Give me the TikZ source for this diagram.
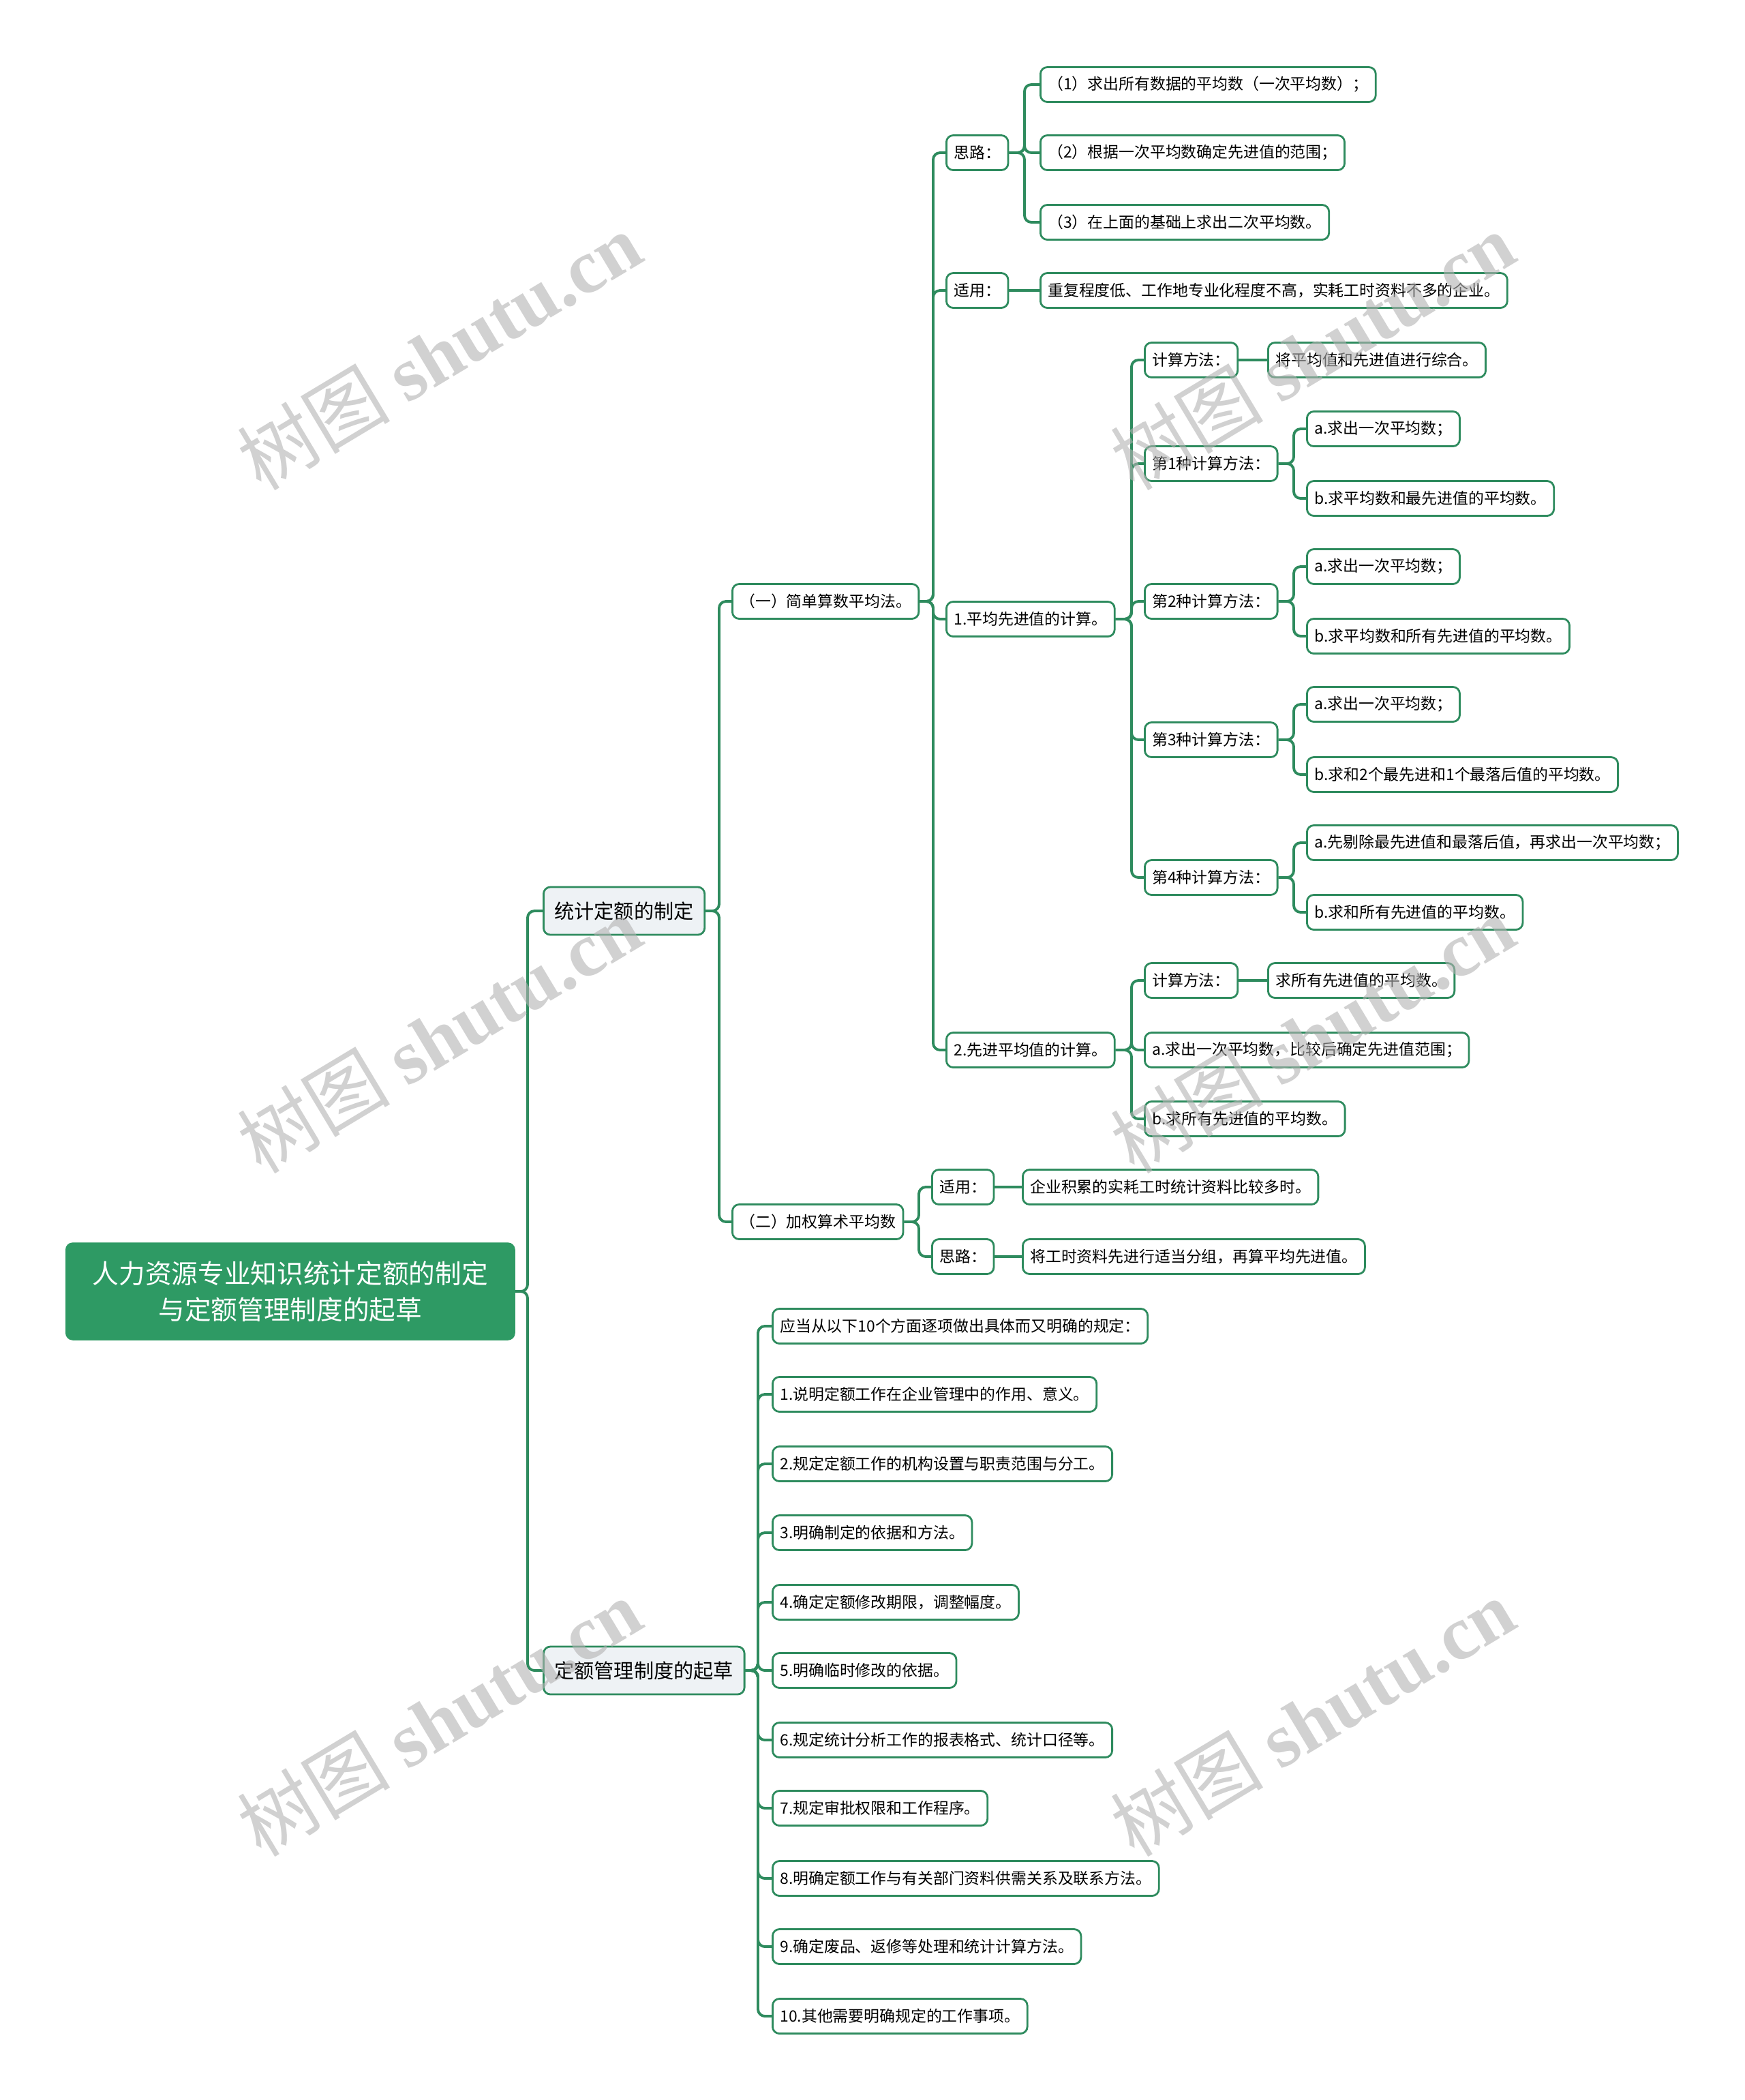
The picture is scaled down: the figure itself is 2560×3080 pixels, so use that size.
\documentclass[tikz,border=0pt]{standalone}
\usepackage{fontspec}
\setmainfont{Noto Sans CJK SC}
\newfontfamily\wmfont{Liberation Serif}
\usetikzlibrary{backgrounds,positioning}
\definecolor{mapgreen}{HTML}{2E8B5E}
\definecolor{rootgreen}{HTML}{2E9A64}
\definecolor{topicgray}{HTML}{EEF2F5}
\tikzset{
  leaf/.style={draw=mapgreen, line width=0.8pt, rounded corners=0.1cm, fill=white,
    anchor=west, minimum height=0.51cm, inner xsep=0.11cm, inner ysep=0pt,
    font=\fontsize{6.5pt}{8pt}\selectfont},
  topic/.style={leaf, fill=topicgray, minimum height=0.70cm, inner xsep=0.16cm,
    font=\fontsize{8.3pt}{10pt}\selectfont},
  rootbox/.style={draw=rootgreen, fill=rootgreen, text=white, rounded corners=0.1cm,
    anchor=west, minimum width=6.58cm, minimum height=1.42cm, align=center,
    font=\fontsize{11pt}{15pt}\selectfont},
  branch/.style={draw=mapgreen, line width=1.1pt, rounded corners=0.1cm},
  wmark/.style={text=black!30, opacity=0.6, rotate=31,
    font=\fontsize{32pt}{36pt}\selectfont}
}
\begin{document}
\begin{tikzpicture}[x=0.01cm,y=-0.01cm]
\useasboundingbox (0,0) rectangle (2560,3080);
% trunks
\coordinate (tr) at (774,0);
\coordinate (ta) at (1055,0);
\coordinate (tb) at (1369,0);
\coordinate (tc) at (1503,0);
\coordinate (td) at (1660,0);
\coordinate (te) at (1898,0);
\coordinate (tg) at (1348,0);
\coordinate (ts) at (1112,0);

% root and main topics
\node[rootbox] (root) at (96,1894) {人力资源专业知识统计定额的制定\\与定额管理制度的起草};
\node[topic] (s1) at (796,1336) {统计定额的制定};
\node[topic] (s2) at (796,2450) {定额管理制度的起草};

% statistics branch
\node[leaf] (a1) at (1073,882) {（一）简单算数平均法。};
\node[leaf] (a2) at (1073,1792) {（二）加权算术平均数};

\node[leaf] (b1) at (1387,224) {思路：};
\node[leaf] (b2) at (1387,426) {适用：};
\node[leaf] (b3) at (1387,908) {1.平均先进值的计算。};
\node[leaf] (b4) at (1387,1540) {2.先进平均值的计算。};

\node[leaf] (c1) at (1525,124) {（1）求出所有数据的平均数（一次平均数）；};
\node[leaf] (c2) at (1525,224) {（2）根据一次平均数确定先进值的范围；};
\node[leaf] (c3) at (1525,326) {（3）在上面的基础上求出二次平均数。};
\node[leaf] (c4) at (1525,426) {重复程度低、工作地专业化程度不高，实耗工时资料不多的企业。};

\node[leaf] (d1) at (1678,528) {计算方法：};
\node[leaf] (d2) at (1678,680) {第1种计算方法：};
\node[leaf] (d3) at (1678,882) {第2种计算方法：};
\node[leaf] (d4) at (1678,1085) {第3种计算方法：};
\node[leaf] (d5) at (1678,1287) {第4种计算方法：};

\node[leaf] (e0) at (1859,528) {将平均值和先进值进行综合。};
\node[leaf] (e1) at (1916,629) {a.求出一次平均数；};
\node[leaf] (e2) at (1916,731) {b.求平均数和最先进值的平均数。};
\node[leaf] (e3) at (1916,831) {a.求出一次平均数；};
\node[leaf] (e4) at (1916,933) {b.求平均数和所有先进值的平均数。};
\node[leaf] (e5) at (1916,1033) {a.求出一次平均数；};
\node[leaf] (e6) at (1916,1136) {b.求和2个最先进和1个最落后值的平均数。};
\node[leaf] (e7) at (1916,1236) {a.先剔除最先进值和最落后值，再求出一次平均数；};
\node[leaf] (e8) at (1916,1338) {b.求和所有先进值的平均数。};

\node[leaf] (f1) at (1678,1438) {计算方法：};
\node[leaf] (f0) at (1859,1438) {求所有先进值的平均数。};
\node[leaf] (f2) at (1678,1540) {a.求出一次平均数，比较后确定先进值范围；};
\node[leaf] (f3) at (1678,1641) {b.求所有先进值的平均数。};

\node[leaf] (g1) at (1366,1741) {适用：};
\node[leaf] (g2) at (1366,1843) {思路：};
\node[leaf] (h1) at (1499,1741) {企业积累的实耗工时统计资料比较多时。};
\node[leaf] (h2) at (1499,1843) {将工时资料先进行适当分组，再算平均先进值。};

% rules branch
\node[leaf] (n0) at (1132,1945) {应当从以下10个方面逐项做出具体而又明确的规定：};
\node[leaf] (n1) at (1132,2045) {1.说明定额工作在企业管理中的作用、意义。};
\node[leaf] (n2) at (1132,2147) {2.规定定额工作的机构设置与职责范围与分工。};
\node[leaf] (n3) at (1132,2248) {3.明确制定的依据和方法。};
\node[leaf] (n4) at (1132,2350) {4.确定定额修改期限，调整幅度。};
\node[leaf] (n5) at (1132,2450) {5.明确临时修改的依据。};
\node[leaf] (n6) at (1132,2552) {6.规定统计分析工作的报表格式、统计口径等。};
\node[leaf] (n7) at (1132,2652) {7.规定审批权限和工作程序。};
\node[leaf] (n8) at (1132,2755) {8.明确定额工作与有关部门资料供需关系及联系方法。};
\node[leaf] (n9) at (1132,2855) {9.确定废品、返修等处理和统计计算方法。};
\node[leaf] (n10) at (1132,2957) {10.其他需要明确规定的工作事项。};

% connectors
\begin{scope}[on background layer]
  \foreach \c in {s1,s2} \draw[branch] (root.east) -- (root.east -| tr) |- (\c.west);
  \foreach \c in {a1,a2} \draw[branch] (s1.east) -- (s1.east -| ta) |- (\c.west);
  \foreach \c in {b1,b2,b3,b4} \draw[branch] (a1.east) -- (a1.east -| tb) |- (\c.west);
  \foreach \c in {c1,c2,c3} \draw[branch] (b1.east) -- (b1.east -| tc) |- (\c.west);
  \draw[branch] (b2) -- (c4);
  \foreach \c in {d1,d2,d3,d4,d5} \draw[branch] (b3.east) -- (b3.east -| td) |- (\c.west);
  \draw[branch] (d1) -- (e0);
  \foreach \p/\c in {d2/e1,d2/e2,d3/e3,d3/e4,d4/e5,d4/e6,d5/e7,d5/e8}
    \draw[branch] (\p.east) -- (\p.east -| te) |- (\c.west);
  \foreach \c in {f1,f2,f3} \draw[branch] (b4.east) -- (b4.east -| td) |- (\c.west);
  \draw[branch] (f1) -- (f0);
  \foreach \c in {g1,g2} \draw[branch] (a2.east) -- (a2.east -| tg) |- (\c.west);
  \draw[branch] (g1) -- (h1);
  \draw[branch] (g2) -- (h2);
  \foreach \c in {n0,n1,n2,n3,n4,n5,n6,n7,n8,n9,n10}
    \draw[branch] (s2.east) -- (s2.east -| ts) |- (\c.west);
\end{scope}

% watermarks
\foreach \wx in {644,1925}
  \foreach \wy in {515,1517,2519}
    \node[wmark] at (\wx,\wy) {树图 {\wmfont\bfseries shutu.cn}};
\end{tikzpicture}
\end{document}
